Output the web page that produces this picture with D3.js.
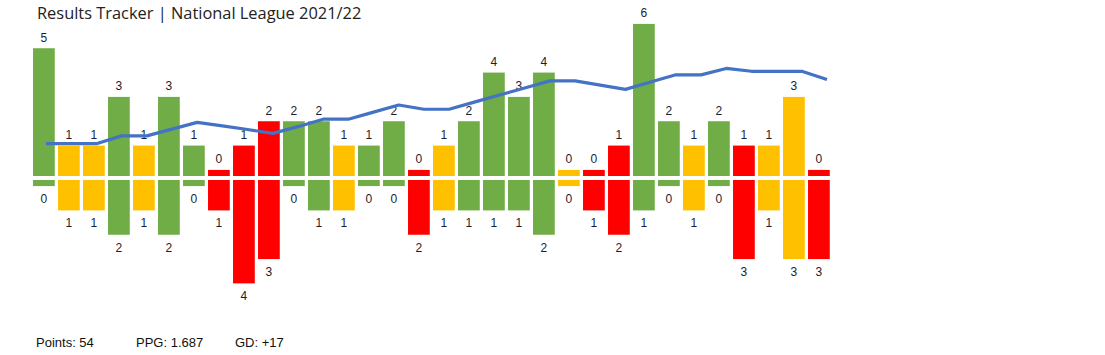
<!DOCTYPE html>
<html>
<head>
<meta charset="utf-8">
<script src="https://cdn.jsdelivr.net/npm/d3@7"></script>
<style>
  body { margin: 0; background: #fff; }
  svg { display: block; }
  .title { font-family: "Open Sans", "Noto Sans", sans-serif; font-size: 16.4px; fill: #222; }
  .lbl { font-family: "Liberation Sans", Arial, sans-serif; font-size: 12px; fill: #1c1c30; }
  .foot { font-family: "Liberation Sans", Arial, sans-serif; font-size: 13px; fill: #111; }
</style>
</head>
<body>
<div id="chart"></div>
<script>
const results = ["W","D","D","W","D","W","W","L","L","L","W","W","D","W","W","L",
                 "D","W","W","W","W","D","L","L","W","W","D","W","L","D","D","L"];
const goalsFor = [5,1,1,3,1,3,1,0,1,2,2,2,1,1,2,0,1,2,4,3,4,0,0,1,6,2,1,2,1,1,3,0];
const goalsAgainst = [0,1,1,2,1,2,0,1,4,3,0,1,1,0,0,2,1,1,1,1,2,0,1,2,1,0,1,0,3,1,3,3];
// running form line
const form = [2,2,2,4.2,4.2,6.1,8,7,6,4.9,6.8,8.9,8.9,10.9,12.9,11.7,11.7,13.7,15.7,17.7,
              19.7,19.7,18.5,17.3,19.4,21.4,21.4,23.2,22.4,22.4,22.4,20.1];
const summary = ["Points: 54", "PPG: 1.687", "GD: +17"];
const title = "Results Tracker | National League 2021/22";

const colors = { W: "#70AD47", D: "#FFC000", L: "#FF0000" };
const width = 1105, height = 355;
const games = results.map((d, i) => i);

const svg = d3.select("#chart").append("svg")
  .attr("width", width)
  .attr("height", height);

const x = d3.scaleBand()
  .domain(games)
  .range([31.4, 831.4])
  .paddingInner(0.13)
  .paddingOuter(0.065);

// zero goals still gets a small stub, so domains start below 0
const yUp = d3.scaleLinear().domain([-0.25, 6]).range([176, 23.9]);
const yDown = d3.scaleLinear().domain([-0.25, 4]).range([180, 283.4]);

const xLine = d3.scalePoint().domain(games).range([46, 827]);
const yLine = d3.scaleLinear().domain([0, 25]).range([150.8, 62.05]);

svg.append("text")
  .attr("class", "title")
  .attr("x", 37)
  .attr("y", 19)
  .text(title);

// goals scored (above)
svg.append("g").selectAll("rect")
  .data(games)
  .join("rect")
  .attr("x", i => x(i))
  .attr("width", x.bandwidth())
  .attr("y", i => yUp(goalsFor[i]))
  .attr("height", i => yUp(-0.25) - yUp(goalsFor[i]))
  .attr("fill", i => colors[results[i]]);

// goals conceded (below)
svg.append("g").selectAll("rect")
  .data(games)
  .join("rect")
  .attr("x", i => x(i))
  .attr("width", x.bandwidth())
  .attr("y", yDown(-0.25))
  .attr("height", i => yDown(goalsAgainst[i]) - yDown(-0.25))
  .attr("fill", i => colors[results[i]]);

svg.append("g").selectAll("text")
  .data(games)
  .join("text")
  .attr("class", "lbl")
  .attr("text-anchor", "middle")
  .attr("x", i => x(i) + x.bandwidth() / 2)
  .attr("y", i => yUp(goalsFor[i]) - 6.5)
  .text(i => goalsFor[i]);

svg.append("g").selectAll("text")
  .data(games)
  .join("text")
  .attr("class", "lbl")
  .attr("text-anchor", "middle")
  .attr("x", i => x(i) + x.bandwidth() / 2)
  .attr("y", i => yDown(goalsAgainst[i]) + 17)
  .text(i => goalsAgainst[i]);

const line = d3.line()
  .x(i => xLine(i))
  .y(i => yLine(form[i]));

svg.append("path")
  .datum(games)
  .attr("fill", "none")
  .attr("stroke", "#4472C4")
  .attr("stroke-width", 3.2)
  .attr("stroke-linejoin", "round")
  .attr("d", line);

const footX = [36, 136, 235];
svg.append("g").selectAll("text")
  .data(summary)
  .join("text")
  .attr("class", "foot")
  .attr("x", (d, i) => footX[i])
  .attr("y", 347)
  .text(d => d);
</script>
</body>
</html>
